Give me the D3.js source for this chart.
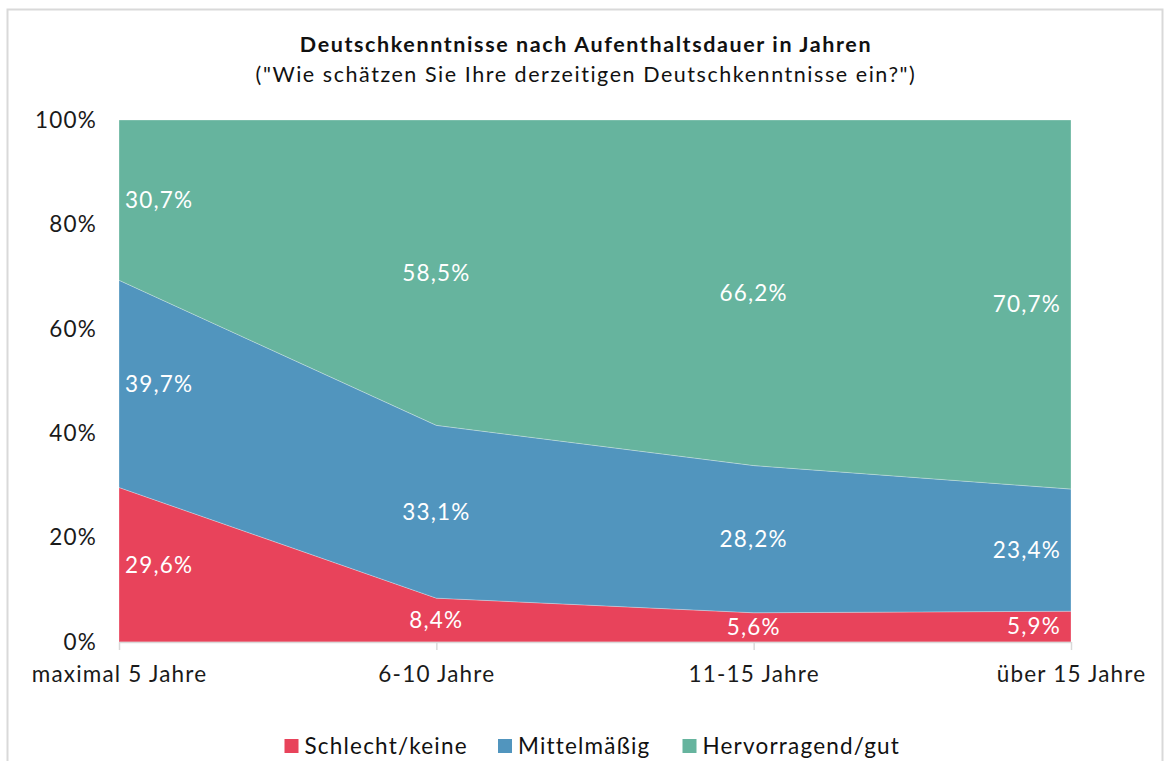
<!DOCTYPE html>
<html>
<head>
<meta charset="utf-8">
<script src="https://cdn.jsdelivr.net/npm/d3@7"></script>
<style>
body { margin: 0; background: #fff; }
svg text { font-family: "Lato", "Open Sans", sans-serif; letter-spacing: 1.2px; }
</style>
</head>
<body>
<div class="contents"></div>
<script>
var width = 1166;
var height = 761;

// data
var categories = ["maximal 5 Jahre", "6-10 Jahre", "11-15 Jahre", "über 15 Jahre"];
var seriesNames = ["Schlecht/keine", "Mittelmäßig", "Hervorragend/gut"];
var schlecht = [29.6, 8.4, 5.6, 5.9];
var mittel = [39.7, 33.1, 28.2, 23.4];
var gut = [30.7, 58.5, 66.2, 70.7];
var yTicks = [0, 20, 40, 60, 80, 100];
var colors = ["#E8435B", "#5195BE", "#66B49E"];

var rows = categories.map(function(c, i) {
	return {cat: c, "Schlecht/keine": schlecht[i], "Mittelmäßig": mittel[i], "Hervorragend/gut": gut[i]};
});

var margin = {top: 120, right: 95, bottom: 119, left: 119};
var fs = "22.5px";

var svg = d3.select(".contents").append("svg")
	.attr("width", width)
	.attr("height", height);

// chart border
svg.append("rect")
	.attr("x", 7.5).attr("y", 9.5)
	.attr("width", 1155).attr("height", 770)
	.style("fill", "none")
	.style("stroke", "#d9d9d9")
	.style("stroke-width", 2);

var x = d3.scalePoint()
	.domain(categories)
	.range([margin.left, width - margin.right]);

var y = d3.scaleLinear()
	.domain([0, 100])
	.range([height - margin.bottom, margin.top]);

var stack = d3.stack().keys(seriesNames);
var layers = stack(rows);

var area = d3.area()
	.x(function(d){ return x(d.data.cat); })
	.y0(function(d){ return y(d[0]); })
	.y1(function(d){ return y(d[1]); });

svg.selectAll("path.layer")
	.data(layers)
	.enter()
	.append("path")
	.attr("class", "layer")
	.attr("d", area)
	.style("fill", function(d, i){ return colors[i]; })
	.style("stroke", "rgba(255,255,255,0.35)")
	.style("stroke-width", 0.8);

// x axis
var xAxis = svg.append("g")
	.attr("transform", "translate(0," + y(0) + ")")
	.call(d3.axisBottom(x).tickSizeInner(8).tickSizeOuter(0).tickPadding(16));
xAxis.select(".domain").style("stroke", "#d9d9d9").style("stroke-width", 1.5);
xAxis.selectAll(".tick line").style("stroke", "#d9d9d9").style("stroke-width", 1.5);
xAxis.selectAll(".tick text")
	.style("font-size", fs)
	.style("fill", "#1a1a1a")
	.attr("font-family", null);

// y axis
var yAxis = svg.append("g")
	.attr("transform", "translate(" + margin.left + ",0)")
	.call(d3.axisLeft(y).tickValues(yTicks).tickSize(0).tickPadding(22)
		.tickFormat(function(d){ return d + "%"; }));
yAxis.select(".domain").remove();
yAxis.selectAll(".tick text")
	.style("font-size", fs)
	.style("fill", "#1a1a1a")
	.attr("font-family", null);

// data labels
layers.forEach(function(layer) {
	layer.forEach(function(d, i) {
		var anchor = i === 0 ? "start" : (i === categories.length - 1 ? "end" : "middle");
		var dx = i === 0 ? 6 : (i === categories.length - 1 ? -10 : 0);
		svg.append("text")
			.attr("x", x(d.data.cat) + dx)
			.attr("y", y((d[0] + d[1]) / 2))
			.attr("dy", "0.35em")
			.attr("text-anchor", anchor)
			.style("font-size", fs)
			.style("fill", "#fff")
			.text(d3.format(".1f")(d[1] - d[0]).replace(".", ",") + "%");
	});
});

// title
svg.append("text")
	.attr("x", 586).attr("y", 52)
	.attr("text-anchor", "middle")
	.style("font-size", "21.5px")
	.style("font-weight", "bold")
	.style("letter-spacing", "1.6px")
	.style("fill", "#111")
	.text("Deutschkenntnisse nach Aufenthaltsdauer in Jahren");
svg.append("text")
	.attr("x", 586).attr("y", 82)
	.attr("text-anchor", "middle")
	.style("font-size", "21.5px")
	.style("letter-spacing", "1.55px")
	.style("fill", "#111")
	.text("(\"Wie schätzen Sie Ihre derzeitigen Deutschkenntnisse ein?\")");

// legend
var legendX = [284.5, 498, 682.5];
var legend = svg.selectAll("g.legend")
	.data(seriesNames)
	.enter()
	.append("g")
	.attr("class", "legend")
	.attr("transform", function(d, i){ return "translate(" + legendX[i] + ",739)"; });
legend.append("rect")
	.attr("width", 14).attr("height", 14)
	.style("fill", function(d, i){ return colors[i]; });
legend.append("text")
	.attr("x", 20).attr("y", 7)
	.attr("dy", "0.35em")
	.style("font-size", fs)
	.style("fill", "#111")
	.text(function(d){ return d; });
</script>
</body>
</html>
